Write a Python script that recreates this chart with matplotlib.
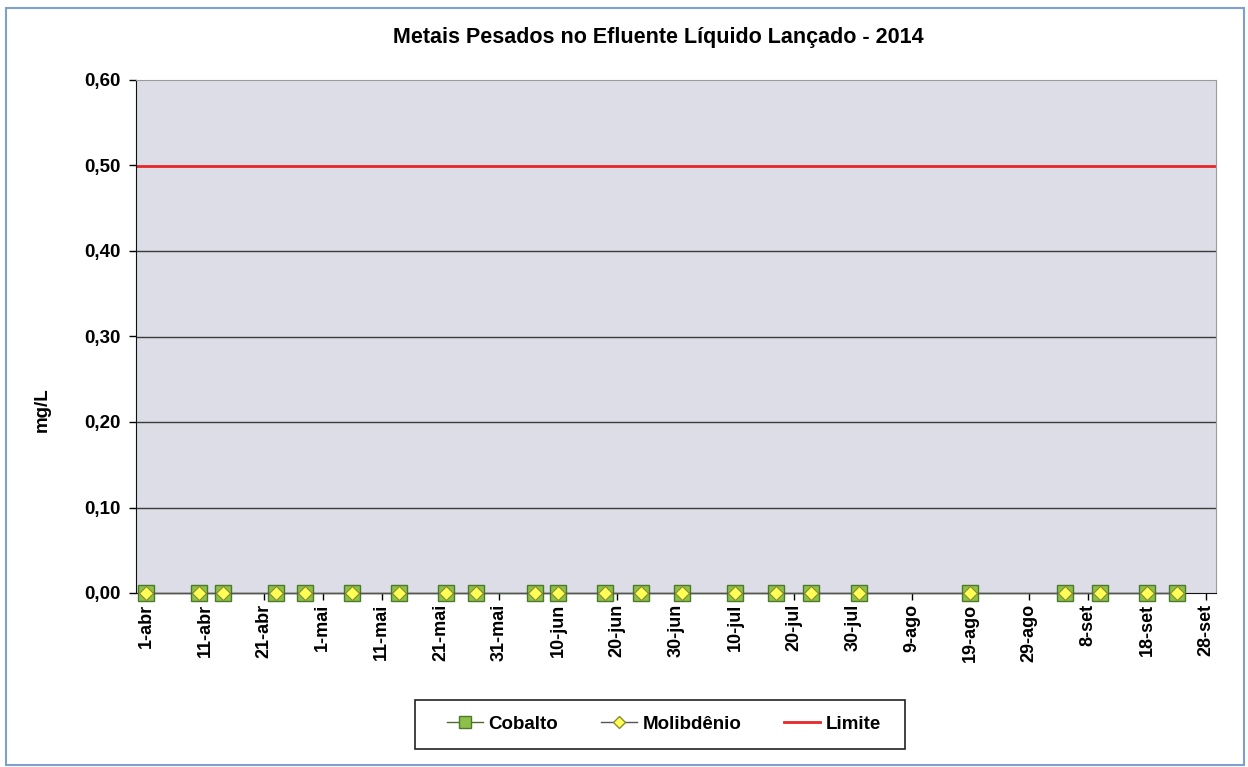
import matplotlib.pyplot as plt
import matplotlib
import matplotlib.dates as mdates
from matplotlib.lines import Line2D
from matplotlib.patches import Rectangle
from matplotlib.ticker import FuncFormatter, MultipleLocator
import datetime as dt

matplotlib.rcParams['font.family'] = ['Liberation Sans', 'DejaVu Sans']
matplotlib.rcParams['font.weight'] = 'bold'

# dias de coleta (2014) - todos os resultados abaixo do limite de detecção
datas = ["2014-04-01", "2014-04-10", "2014-04-14", "2014-04-23", "2014-04-28",
         "2014-05-06", "2014-05-14", "2014-05-22", "2014-05-27", "2014-06-06",
         "2014-06-10", "2014-06-18", "2014-06-24", "2014-07-01", "2014-07-10",
         "2014-07-17", "2014-07-23", "2014-07-31", "2014-08-19", "2014-09-04",
         "2014-09-10", "2014-09-18", "2014-09-23"]
cobalto = [0.0] * len(datas)
molibdenio = [0.0] * len(datas)
limite = 0.50
meses = ["jan", "fev", "mar", "abr", "mai", "jun", "jul", "ago", "set", "out", "nov", "dez"]

x = [dt.datetime.strptime(d, "%Y-%m-%d") for d in datas]

fig = plt.figure(figsize=(12.48, 7.67), dpi=100)
fig.patches.append(Rectangle((6 / 1248, 2 / 767), 1238 / 1248, 757 / 767,
                             transform=fig.transFigure, fill=False,
                             edgecolor='#7f9fcf', linewidth=1.5))

ax = fig.add_axes([136 / 1248, 1 - 593 / 767, 1080 / 1248, 513 / 767])
ax.set_facecolor('#dddde7')

for v in [0.1, 0.2, 0.3, 0.4]:
    ax.axhline(v, color='#3a3a3a', linewidth=1.0, zorder=1)
ax.axhline(limite, color='#e8262a', linewidth=2.0, zorder=2)

ax.plot(x, cobalto, '-', color='#4d6b2a', linewidth=1, marker='s',
        markersize=11, markerfacecolor='#8cc04a', markeredgecolor='#4d7a2a',
        markeredgewidth=1, zorder=4, clip_on=False)
ax.plot(x, molibdenio, '-', color='#555555', linewidth=1, marker='D',
        markersize=7, markerfacecolor='#ffff55', markeredgecolor='#8a8a30',
        markeredgewidth=0.8, zorder=5, clip_on=False)

x0 = dt.datetime(2014, 4, 1)
ax.set_xlim(x0 - dt.timedelta(days=1.7), dt.datetime(2014, 9, 28) + dt.timedelta(days=1.7))
ax.set_ylim(0, 0.6)

ticks = [x0 + dt.timedelta(days=10 * i) for i in range(19)]
ax.set_xticks(ticks)
ax.xaxis.set_major_formatter(FuncFormatter(
    lambda v, p: f"{mdates.num2date(v).day}-{meses[mdates.num2date(v).month - 1]}"))
ax.yaxis.set_major_locator(MultipleLocator(0.1))
ax.yaxis.set_major_formatter(FuncFormatter(lambda v, p: f"{v:.2f}".replace(".", ",")))

ax.tick_params(axis='x', direction='out', length=5, width=1, labelsize=13,
               labelrotation=90, pad=3)
ax.tick_params(axis='y', direction='out', length=5, width=1, labelsize=13.5, pad=6)
for lab in ax.get_xticklabels() + ax.get_yticklabels():
    lab.set_fontweight('bold')

ax.spines['left'].set_color('#111111')
ax.spines['bottom'].set_color('#111111')
ax.spines['top'].set_color('#9a9aa0')
ax.spines['right'].set_color('#9a9aa0')

fig.text(658 / 1248, 1 - 38 / 767, "Metais Pesados no Efluente Líquido Lançado - 2014",
         ha='center', va='center', fontsize=15.5, fontweight='bold')
fig.text(42 / 1248, 1 - 410 / 767, "mg/L", rotation=90, ha='center', va='center',
         fontsize=13.5, fontweight='bold')

handles = [
    Line2D([0], [0], color='#4d6b2a', lw=1, marker='s', markersize=9,
           markerfacecolor='#8cc04a', markeredgecolor='#4d7a2a'),
    Line2D([0], [0], color='#555555', lw=1, marker='D', markersize=6,
           markerfacecolor='#ffff55', markeredgecolor='#8a8a30'),
    Line2D([0], [0], color='#e8262a', lw=2),
]
fig.patches.append(Rectangle((415 / 1248, 1 - 749 / 767), 490 / 1248, 49 / 767,
                             transform=fig.transFigure, fill=False,
                             edgecolor='#222222', linewidth=1.2))
fig.legend(handles, ["Cobalto", "Molibdênio", "Limite"], ncol=3,
           loc='center', bbox_to_anchor=(664 / 1248, 1 - 724 / 767),
           frameon=False, prop={'size': 13.5, 'weight': 'bold'},
           handlelength=1.9, handletextpad=0.3, columnspacing=2.3)

plt.savefig("out.png", dpi=100)
